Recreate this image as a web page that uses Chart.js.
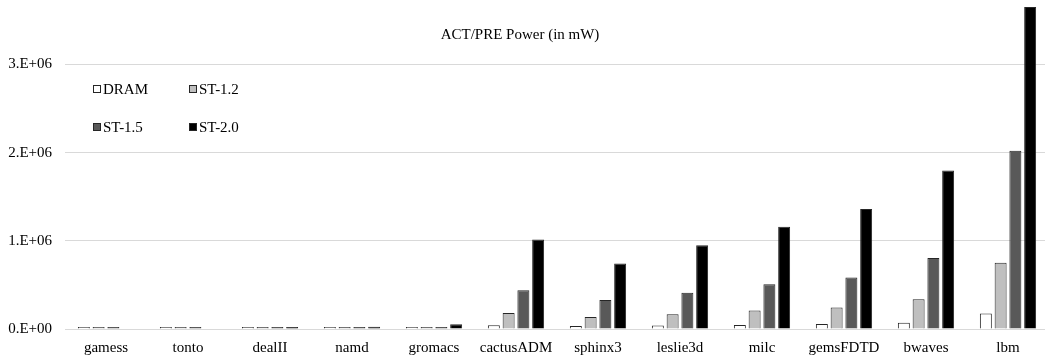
<!DOCTYPE html>
<html>
<head>
<meta charset="utf-8">
<script src="https://cdn.jsdelivr.net/npm/chart.js@4/dist/chart.umd.min.js"></script>
<style>
  html, body { margin: 0; padding: 0; background: #fff; overflow: hidden; }
  #wrap { position: relative; width: 1049px; height: 383px; margin-top: -22px; }
</style>
</head>
<body>
<div id="wrap"><canvas id="chart"></canvas></div>
<script>
// benchmarks
const categories = ["gamess", "tonto", "dealII", "namd", "gromacs", "cactusADM",
  "sphinx3", "leslie3d", "milc", "gemsFDTD", "bwaves", "lbm"];

// ACT/PRE power per config (mW)
const dram  = [5000, 5000, 4000, 4000, 4000, 42000, 34000, 40000, 45000, 57000, 71000, 177000];
const st12  = [5000, 5000, 8000, 8000, 10000, 180000, 136000, 166000, 210000, 245000, 336000, 750000];
const st15  = [5000, 5000, 16000, 15000, 20000, 440000, 330000, 410000, 506000, 585000, 804000, 2020000];
const st20  = [null, null, 20000, 26000, 55000, 1015000, 744000, 950000, 1160000, 1360000, 1797000, 3650000];

const yTicks = [0, 1000000, 2000000, 3000000];

const serif = "'Liberation Serif', 'Times New Roman', serif";

// title + 2x2 legend drawn inside the plot (relative to chart area top)
const overlay = {
  id: "overlay",
  afterDraw(chart) {
    const ctx = chart.ctx;
    const top = chart.chartArea.top;
    ctx.save();
    ctx.font = "15px " + serif;
    ctx.fillStyle = "#000";
    ctx.textBaseline = "middle";
    ctx.textAlign = "center";
    ctx.fillText("ACT/PRE Power (in mW)", 520, top + 35);

    ctx.textAlign = "left";
    const pos = [[93, 89], [189, 89], [93, 127], [189, 127]];
    chart.data.datasets.forEach((ds, i) => {
      const x = pos[i][0], y = top + pos[i][1];
      ctx.fillStyle = ds.backgroundColor;
      ctx.fillRect(x + 0.5, y - 3.5, 7, 7);
      ctx.strokeStyle = "#262626";
      ctx.lineWidth = 1;
      ctx.strokeRect(x + 0.5, y - 3.5, 7, 7);
      ctx.fillStyle = "#000";
      ctx.fillText(ds.label, x + 10, y + 1);
    });
    ctx.restore();
  }
};

function mk(label, data, color) {
  return {
    label: label,
    data: data,
    backgroundColor: color,
    borderColor: "#262626",
    borderWidth: 1,
    borderSkipped: "bottom",
    minBarLength: 2,
    categoryPercentage: 0.72,
    barPercentage: 0.81
  };
}

new Chart(document.getElementById("chart"), {
  type: "bar",
  data: {
    labels: categories,
    datasets: [
      mk("DRAM", dram, "#ffffff"),
      mk("ST-1.2", st12, "#bfbfbf"),
      mk("ST-1.5", st15, "#595959"),
      mk("ST-2.0", st20, "#000000")
    ]
  },
  options: {
    responsive: true,
    maintainAspectRatio: false,
    animation: false,
    plugins: {
      legend: { display: false },
      tooltip: { enabled: false }
    },
    scales: {
      x: {
        grid: { display: false },
        border: { display: false },
        ticks: {
          color: "#000",
          font: { family: serif, size: 15 },
          padding: 2,
          maxRotation: 0,
          autoSkip: false
        },
        afterFit(axis) { axis.height = 32; }
      },
      y: {
        min: 0,
        max: 3730000,
        grid: { color: "#d9d9d9", lineWidth: 1, drawTicks: false },
        border: { display: false },
        afterBuildTicks(axis) {
          axis.ticks = yTicks.map(v => ({ value: v }));
        },
        ticks: {
          color: "#000",
          font: { family: serif, size: 15 },
          padding: 13,
          callback: v => v === 0 ? "0.E+00" : Math.round(v / 1e6) + ".E+06"
        },
        afterFit(axis) { axis.width = 65; }
      }
    }
  },
  plugins: [overlay]
});
</script>
</body>
</html>
